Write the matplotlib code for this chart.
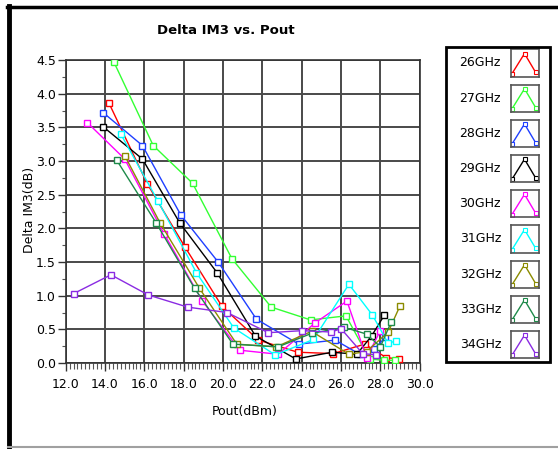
import matplotlib
matplotlib.use("Agg")
import matplotlib.pyplot as plt
from matplotlib.lines import Line2D
from matplotlib.patches import Rectangle
import numpy as np

labels = ["26GHz", "27GHz", "28GHz", "29GHz", "30GHz", "31GHz", "32GHz", "33GHz", "34GHz"]
colors = ["#ff0000", "#33ff33", "#1f3fff", "#000000", "#ff00ff", "#00ffff", "#8b8b00", "#1e8a4a", "#8a2be2"]

x26 = [14.2, 16.15, 18.05, 19.95, 21.8, 23.8, 25.6, 27.2, 28.3, 28.95]
y26 = [3.86, 2.66, 1.73, 0.84, 0.34, 0.16, 0.14, 0.28, 0.08, 0.06]
x27 = [14.45, 16.45, 18.45, 20.45, 22.45, 24.45, 26.25, 27.45, 28.2, 28.75]
y27 = [4.47, 3.23, 2.67, 1.55, 0.83, 0.64, 0.70, 0.06, 0.04, 0.04]
x28 = [13.9, 15.9, 17.85, 19.75, 21.7, 23.85, 25.7, 26.95, 27.7, 28.25]
y28 = [3.72, 3.23, 2.20, 1.50, 0.65, 0.28, 0.34, 0.13, 0.21, 0.38]
x29 = [13.9, 15.9, 17.8, 19.7, 21.65, 23.7, 25.55, 26.8, 27.55, 28.2]
y29 = [3.51, 3.03, 2.08, 1.34, 0.40, 0.06, 0.16, 0.13, 0.40, 0.71]
x30 = [13.1, 15.0, 17.0, 18.95, 20.85, 22.8, 24.7, 26.3, 27.3, 28.0]
y30 = [3.57, 3.03, 1.92, 0.92, 0.19, 0.13, 0.60, 0.92, 0.08, 0.48]
x31 = [14.8, 16.7, 18.65, 20.55, 22.65, 24.6, 26.4, 27.6, 28.4, 28.8]
y31 = [3.40, 2.40, 1.34, 0.52, 0.12, 0.35, 1.17, 0.71, 0.29, 0.33]
x32 = [15.0, 16.8, 18.8, 20.7, 22.7, 24.5, 26.4, 27.3, 28.4, 29.0]
y32 = [3.08, 2.08, 1.11, 0.28, 0.24, 0.47, 0.13, 0.17, 0.46, 0.85]
x33 = [14.6, 16.6, 18.55, 20.5, 22.8, 24.5, 26.15, 27.3, 28.0, 28.55]
y33 = [3.01, 2.08, 1.11, 0.28, 0.24, 0.44, 0.53, 0.43, 0.24, 0.61]
x34 = [12.4, 14.3, 16.2, 18.2, 20.2, 22.3, 24.0, 25.5, 26.0, 27.1, 27.8]
y34 = [1.03, 1.31, 1.01, 0.83, 0.75, 0.45, 0.48, 0.46, 0.51, 0.14, 0.12]

xs = [x26, x27, x28, x29, x30, x31, x32, x33, x34]
ys = [y26, y27, y28, y29, y30, y31, y32, y33, y34]

xticks = [12.0, 14.0, 16.0, 18.0, 20.0, 22.0, 24.0, 26.0, 28.0, 30.0]
yticks = [0.0, 0.5, 1.0, 1.5, 2.0, 2.5, 3.0, 3.5, 4.0, 4.5]

W, H = 558, 449
fig = plt.figure(figsize=(W / 100, H / 100), dpi=100)
fig.patch.set_facecolor("white")

def fx(px):
    return px / W

def fy(py):
    return 1 - py / H

# window frame
fig.add_artist(Line2D([fx(8.5), fx(8.5)], [fy(6), fy(449)], color="black", lw=3.5))
fig.add_artist(Line2D([fx(7), fx(558)], [fy(6.5), fy(6.5)], color="black", lw=2.5))
fig.add_artist(Line2D([fx(8), fx(558)], [fy(446.5), fy(446.5)], color="#a0a0a0", lw=1.5))

ax = fig.add_axes([fx(65.7), fy(363), fx(419.7) - fx(65.7), fy(60) - fy(363)])
for i in range(9):
    ax.plot(xs[i], ys[i], color=colors[i], lw=1.0, marker="s", markersize=5,
            mfc="white", mec=colors[i], mew=1.0, zorder=3 + i * 0.01)

ax.set_xlim(12.0, 30.0)
ax.set_ylim(0.0, 4.5)
ax.set_xticks(xticks)
ax.set_xticklabels([f"{v:.1f}" for v in xticks], fontsize=9, family="DejaVu Sans")
ax.set_yticks(yticks)
ax.set_yticklabels([f"{v:.1f}" for v in yticks], fontsize=9, family="DejaVu Sans")
ax.set_xticks(np.arange(12.0, 30.01, 0.2), minor=True)
ax.set_yticks(np.arange(0.0, 4.51, 0.25), minor=True)
ax.tick_params(axis="x", which="major", length=6, width=1, direction="out", pad=5, color="#333333")
ax.tick_params(axis="x", which="minor", length=4, width=0.8, direction="out", color="#555555")
ax.tick_params(axis="y", which="major", length=6, width=1, direction="out", pad=1, color="#333333")
ax.tick_params(axis="y", which="minor", length=3, width=0.8, direction="out", color="#555555")
ax.grid(True, which="major", color="#4a4a4a", lw=1.4)
ax.set_axisbelow(True)
for s in ax.spines.values():
    s.set_color("#333333")
    s.set_linewidth(1.2)

fig.text(fx(226), fy(31), "Delta IM3 vs. Pout", ha="center", va="center",
         fontsize=9.5, fontweight="bold", family="DejaVu Sans")
fig.text(fx(29), fy(210), "Delta IM3(dB)", ha="center", va="center", rotation=90,
         fontsize=9, family="DejaVu Sans")
fig.text(fx(245), fy(411), "Pout(dBm)", ha="center", va="center",
         fontsize=9, family="DejaVu Sans")

# legend box
fig.add_artist(Rectangle((fx(446), fy(362)), fx(550) - fx(446), fy(47) - fy(362),
                         fill=False, ec="black", lw=2, transform=fig.transFigure))
icon_x = [0.05, 0.5, 0.9]
icon_y = [0.1, 0.85, 0.15]
for i, lab in enumerate(labels):
    cy = 63 + i * 35.2
    fig.text(fx(501), fy(cy), lab, ha="right", va="center", fontsize=9, family="DejaVu Sans")
    iax = fig.add_axes([fx(510.5), fy(cy + 13.5), fx(28), fy(0) - fy(27)])
    iax.plot(icon_x, icon_y, color=colors[i], lw=1, marker="s", markersize=3.5,
             mfc="white", mec=colors[i], mew=0.8)
    iax.set_xlim(0, 1)
    iax.set_ylim(0, 1)
    iax.set_xticks([])
    iax.set_yticks([])
    for s in iax.spines.values():
        s.set_color("#555555")
        s.set_linewidth(1.2)

fig.savefig("out.png", dpi=100)
